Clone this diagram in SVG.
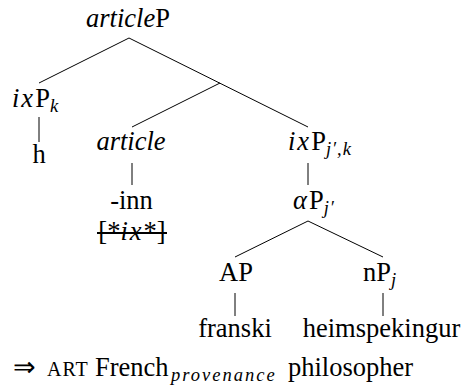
<svg xmlns="http://www.w3.org/2000/svg" width="466" height="385" viewBox="0 0 466 385">
<style>
text{font-family:"Liberation Serif","Times New Roman",serif;font-size:26.5px;fill:#000}
.i{font-style:italic}
.m{font-style:italic;letter-spacing:2px}
.s{font-size:18.5px;font-style:italic;letter-spacing:1px}
.sc{font-size:20px;letter-spacing:1px}
.e line{stroke:#000;stroke-width:1}
</style>
<rect width="466" height="385" fill="#fff"/>
<g id="connectors" class="e">
<line x1="129" y1="38" x2="39" y2="83"/>
<line x1="129" y1="38" x2="308" y2="127"/>
<line x1="220" y1="83" x2="132" y2="127"/>
<line x1="39" y1="117" x2="39" y2="142"/>
<line x1="132" y1="163" x2="132" y2="185"/>
<line x1="308" y1="163" x2="308" y2="185"/>
<line x1="308" y1="221" x2="235" y2="257"/>
<line x1="308" y1="221" x2="383" y2="257"/>
<line x1="235" y1="293" x2="235" y2="316"/>
<line x1="383" y1="293" x2="383" y2="316"/>
</g>
<g id="n-articleP"><text x="128" y="27" text-anchor="middle"><tspan class="i">article</tspan>P</text></g>
<g id="n-ixPk"><text x="12" y="107"><tspan class="m">ix</tspan>P<tspan class="s" dy="5">k</tspan></text></g>
<g id="n-h"><text x="39" y="163" text-anchor="middle">h</text></g>
<g id="n-article"><text x="131" y="150" text-anchor="middle" class="i">article</text></g>
<g id="n-inn"><text x="131.5" y="209" text-anchor="middle">-inn</text></g>
<g id="n-ix"><text x="132" y="240" text-anchor="middle">[*<tspan class="m">ix</tspan>*]</text><line x1="97" y1="233" x2="167" y2="233" stroke="#000" stroke-width="2"/></g>
<g id="n-ixPjk"><text x="288" y="150"><tspan class="m">ix</tspan>P<tspan class="s" dy="5">j′,k</tspan></text></g>
<g id="n-alphaP"><text x="293" y="209"><tspan class="m">α</tspan>P<tspan class="s" dy="5">j′</tspan></text></g>
<g id="n-AP"><text x="236" y="281" text-anchor="middle">AP</text></g>
<g id="n-nP"><text x="363" y="281">nP<tspan class="s" dy="5">j</tspan></text></g>
<g id="n-franski"><text x="235" y="337" text-anchor="middle">franski</text></g>
<g id="n-heim"><text x="381.5" y="337" text-anchor="middle">heimspekingur</text></g>
<g id="gloss">
<text x="13" y="376" font-size="24">⇒</text>
<text x="47" y="376" class="sc">ART</text>
<text x="95" y="376">French</text>
<text x="171" y="381" class="s" style="letter-spacing:2px">provenance</text>
<text x="288" y="376">philosopher</text>
</g>
</svg>
